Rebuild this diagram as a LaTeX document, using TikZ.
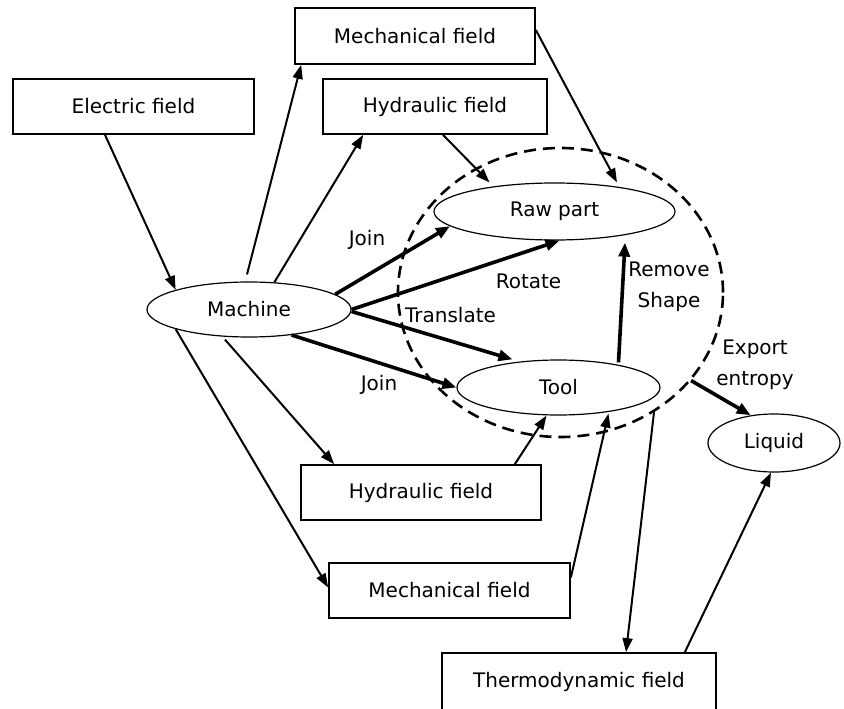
\documentclass[tikz,border=0pt]{standalone}
\usepackage{fontspec}
\setmainfont{DejaVu Sans}
\usetikzlibrary{arrows.meta,shapes.geometric}
\begin{document}
\begin{tikzpicture}[x=1pt,y=-1pt,
  every node/.style={font=\fontsize{20}{31}\selectfont},
  box/.style={draw,line width=1.7pt,minimum width=#1,minimum height=55pt,inner sep=0pt},
  oval/.style={draw,ellipse,fill=white,line width=1.2pt,inner sep=0pt},
  sysline/.style={draw,ellipse,line width=2.6pt,dash pattern=on 12pt off 7pt,inner sep=0pt},
  conn/.style={line width=2pt,-{Triangle[length=14pt,width=10pt]}},
  bconn/.style={line width=3.6pt,-{Triangle[length=14pt,width=11pt]}}
]
\useasboundingbox (0,0) rectangle (844,709);
\fill[white] (0,0) rectangle (844,709);

\node[sysline,minimum width=325pt,minimum height=289pt] (sys) at (560.5,292.5) {};

\node[box=241pt] (elec) at (133.5,106.5) {Electric field};
\node[box=240pt,minimum height=56pt] (mechT) at (415,36) {Mechanical field};
\node[box=224pt] (hydT) at (435,106.5) {Hydraulic field};
\node[box=240pt] (hydB) at (421,492.5) {Hydraulic field};
\node[box=241pt] (mechB) at (449.5,590.5) {Mechanical field};
\node[box=274pt,minimum height=58pt] (thermo) at (579,682) {Thermodynamic field};

\node[oval,minimum width=204pt,minimum height=55pt] (machine) at (249,309.5) {Machine};
\node[oval,minimum width=241pt,minimum height=57pt] (raw) at (554.5,211.5) {Raw part};
\node[oval,minimum width=203pt,minimum height=55pt] (tool) at (558.5,387.5) {Tool};
\node[oval,minimum width=132pt,minimum height=58pt] (liquid) at (774,443) {Liquid};

% connectors
\draw[conn] ([xshift=-28.5pt]elec.south) -- (machine.165);
\draw[conn] ([xshift=-2pt,yshift=7pt]machine.north) -- ([xshift=7pt]mechT.south west);
\draw[conn] (machine.47) -- ([xshift=41pt]hydT.south west);
\draw[conn] ([xshift=8pt]hydT.south) -- ([xshift=-65pt]raw.north);
\draw[conn] ([yshift=6pt]mechT.east) -- ([xshift=62.5pt]raw.north);
\draw[bconn] (machine.10) -- (raw.188);
\draw[bconn] (machine.east) -- ([xshift=5pt]raw.south);
\draw[bconn] ([yshift=-2pt]machine.east) -- ([xshift=-46pt]tool.north);
\draw[bconn] (machine.-31) -- (tool.west);
\draw[conn] ([xshift=-24pt,yshift=-2pt]machine.south) -- ([xshift=34pt]hydB.north west);
\draw[conn] (machine.195) -- ([yshift=3pt]mechB.west);
\draw[conn] ([xshift=-27pt]hydB.north east) -- ([xshift=-12pt]tool.south);
\draw[conn] ([yshift=13pt]mechB.east) -- ([xshift=50pt,yshift=2pt]tool.south);
\draw[bconn] ([xshift=60pt,yshift=-3pt]tool.north) -- ([xshift=70.5pt,yshift=-2pt]raw.south);
\draw[bconn] (sys.-34) -- (liquid.130);
\draw[conn] (sys.-52.5) -- ([xshift=47pt]thermo.north);
\draw[conn] ([xshift=-32pt]thermo.north east) -- ([xshift=-3pt]liquid.south);

% labels
\node (lj1) at (367,240) {Join};
\node (lrot) at (528.5,281.5) {Rotate};
\node (ltr) at (450.5,315.5) {Translate};
\node (lj2) at (379,385) {Join};
\node[align=center] (lrm) at (669,287) {Remove\\Shape};
\node[align=center] (lex) at (755,365) {Export\\entropy};
\end{tikzpicture}
\end{document}
